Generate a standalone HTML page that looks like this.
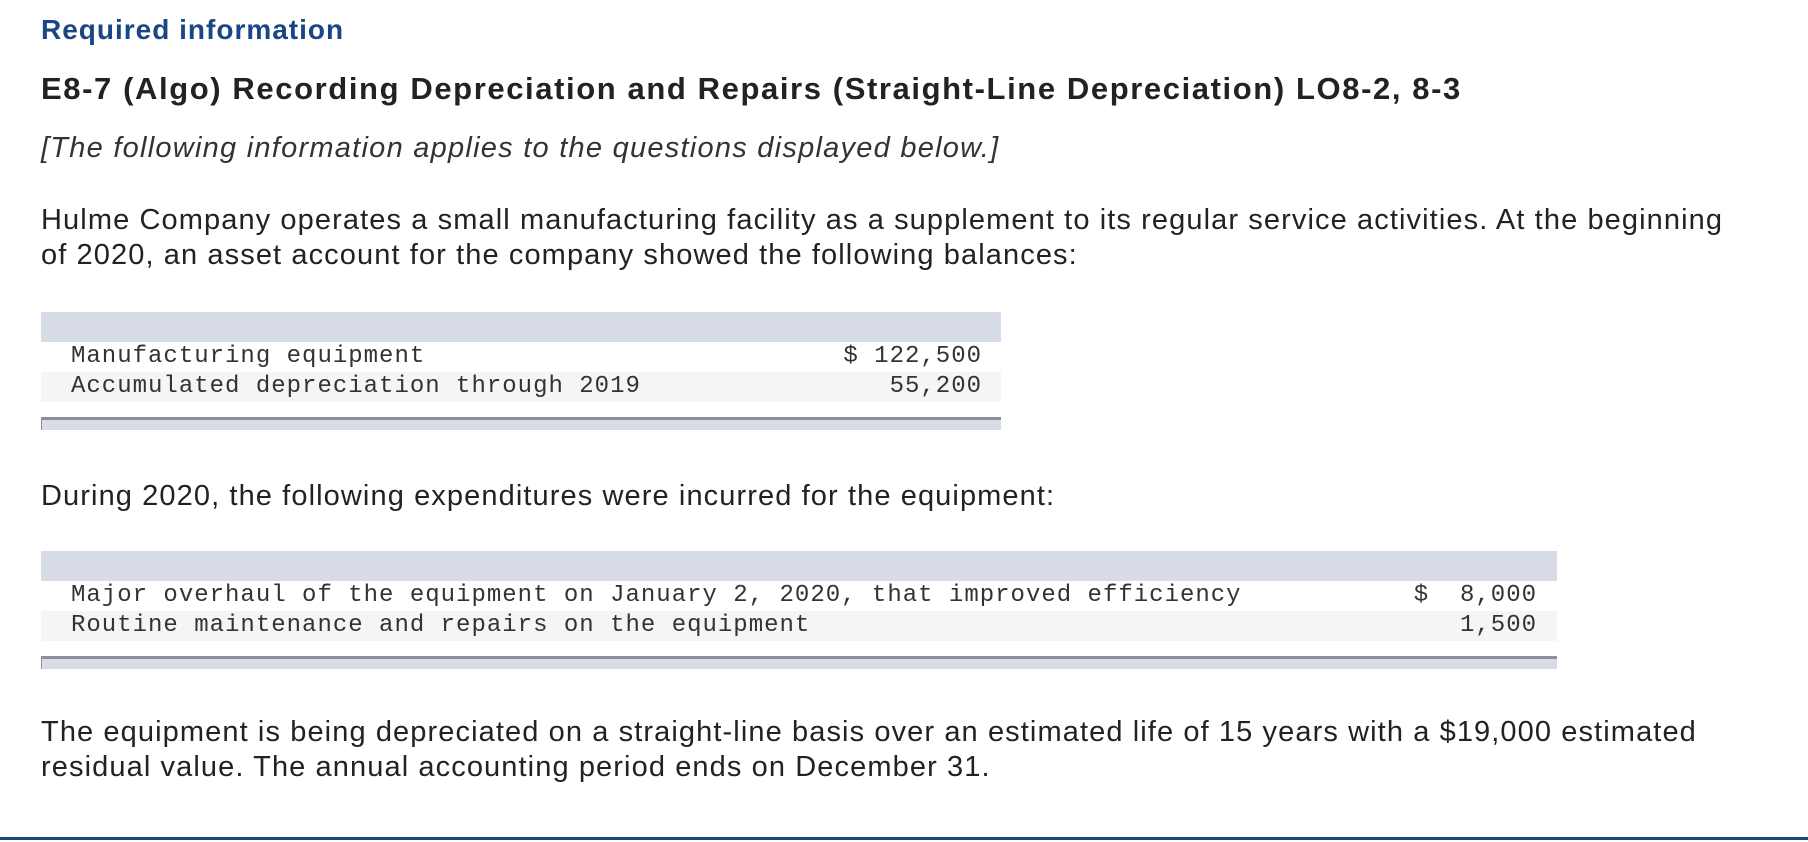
<!DOCTYPE html>
<html><head><meta charset="utf-8"><style>
body{margin:0;width:1808px;height:842px;background:#fff;position:relative;overflow:hidden;font-family:"Liberation Sans",Arial,sans-serif;color:#222}
.a{position:absolute;white-space:nowrap}
.mono{font-family:"Liberation Mono",monospace;font-size:24px;letter-spacing:1px;color:#333}
.hdr{position:absolute;background:#d7dce6}
.row{position:absolute;background:#f5f5f5}
.bar{position:absolute;background:#d7dce6;border-top:3px solid #8a8f99;border-left:1px solid #8a8f99;box-sizing:border-box}
p.t{position:absolute;margin:0;font-size:29px;letter-spacing:1.1px;line-height:35px;left:41px}
</style></head><body>
<div class="a" style="left:41px;top:14px;font-size:28px;letter-spacing:1px;font-weight:bold;color:#1a4683">Required information</div>
<div class="a" style="left:41px;top:71px;font-size:31px;letter-spacing:1.6px;font-weight:bold;color:#222">E8-7 (Algo) Recording Depreciation and Repairs (Straight-Line Depreciation) LO8-2, 8-3</div>
<div class="a" style="left:41px;top:132px;font-size:29px;letter-spacing:1.25px;font-style:italic;color:#333">[The following information applies to the questions displayed below.]</div>
<p class="t" style="top:203px">Hulme Company operates a small manufacturing facility as a supplement to its regular service activities. At the beginning<br>of 2020, an asset account for the company showed the following balances:</p>

<div>
<div class="hdr" style="left:41px;top:312px;width:960px;height:30px"></div>
<div class="row" style="left:41px;top:372px;width:960px;height:30px"></div>
<div class="a mono" style="left:71px;top:343px">Manufacturing equipment</div>
<div class="a mono" style="right:826px;top:343px">$ 122,500</div>
<div class="a mono" style="left:71px;top:373px">Accumulated depreciation through 2019</div>
<div class="a mono" style="right:826px;top:373px">55,200</div>
<div class="bar" style="left:41px;top:417px;width:960px;height:13px"></div>
</div>

<p class="t" style="top:479px">During 2020, the following expenditures were incurred for the equipment:</p>

<div>
<div class="hdr" style="left:41px;top:551px;width:1516px;height:30px"></div>
<div class="row" style="left:41px;top:611px;width:1516px;height:30px"></div>
<div class="a mono" style="left:71px;top:582px">Major overhaul of the equipment on January 2, 2020, that improved efficiency</div>
<div class="a mono" style="right:271px;top:582px">$&nbsp;&nbsp;8,000</div>
<div class="a mono" style="left:71px;top:612px">Routine maintenance and repairs on the equipment</div>
<div class="a mono" style="right:271px;top:612px">1,500</div>
<div class="bar" style="left:41px;top:656px;width:1516px;height:13px"></div>
</div>

<p class="t" style="top:715px">The equipment is being depreciated on a straight-line basis over an estimated life of 15 years with a $19,000 estimated<br>residual value. The annual accounting period ends on December 31.</p>
<div class="a" style="left:0;top:837px;width:1808px;height:3px;background:#1a4683"></div>
</body></html>
